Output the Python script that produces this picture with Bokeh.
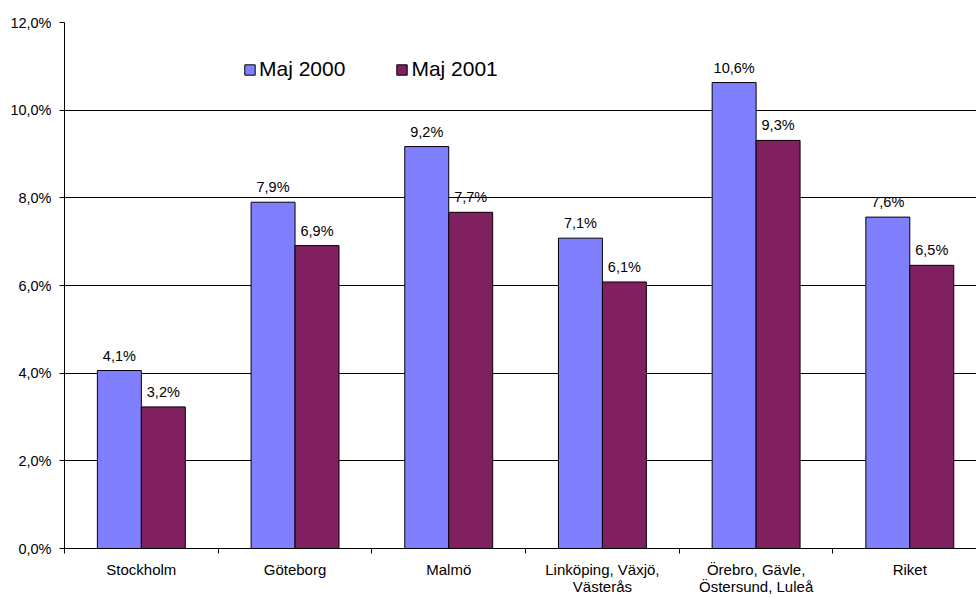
from bokeh.plotting import figure
from bokeh.models import Range1d, FixedTicker, ColumnDataSource, Legend, LegendItem, LabelSet
from bokeh.core.properties import value
from bokeh.embed import file_html
from bokeh.resources import INLINE

categories = ["Stockholm", "Göteborg", "Malmö", "Linköping, Växjö,\nVästerås",
              "Örebro, Gävle,\nÖstersund, Luleå", "Riket"]
maj_2000 = [4.06, 7.90, 9.17, 7.08, 10.63, 7.56]
maj_2001 = [3.23, 6.91, 7.67, 6.08, 9.31, 6.46]
series_names = ["Maj 2000", "Maj 2001"]
y_ticks = [0, 2, 4, 6, 8, 10, 12]
y_tick_labels = ["0,0%", "2,0%", "4,0%", "6,0%", "8,0%", "10,0%", "12,0%"]

FONT = "Liberation Sans"
BLUE = "#8080FF"
PURPLE = "#802060"
BAR_W = 0.286

n = len(categories)
centers = [i + 0.5 for i in range(n)]


def fmt(v):
    return f"{v:.1f}".replace(".", ",") + "%"


src_a = ColumnDataSource(dict(x=[c - BAR_W / 2 for c in centers], top=maj_2000,
                              lab=[fmt(v) for v in maj_2000]))
src_b = ColumnDataSource(dict(x=[c + BAR_W / 2 for c in centers], top=maj_2001,
                              lab=[fmt(v) for v in maj_2001]))

p = figure(width=976, height=597, output_backend="svg", toolbar_location=None,
           x_range=Range1d(0, 5.934), y_range=Range1d(0, 12),
           min_border_left=64, min_border_right=0, min_border_top=22, min_border_bottom=48)
p.outline_line_color = None
p.background_fill_color = "white"
p.border_fill_color = "white"

# grid
p.xgrid.grid_line_color = None
p.ygrid.ticker = FixedTicker(ticks=y_ticks)
p.ygrid.grid_line_color = "#000000"
p.ygrid.grid_line_width = 1

# y axis
p.yaxis.ticker = FixedTicker(ticks=y_ticks)
p.yaxis.major_label_overrides = {t: l for t, l in zip(y_ticks, y_tick_labels)}
p.yaxis.major_tick_out = 5
p.yaxis.major_tick_in = 0
p.yaxis.minor_tick_line_color = None
p.yaxis.major_label_standoff = 8
p.yaxis.axis_line_color = "black"
p.yaxis.major_tick_line_color = "black"
p.yaxis.major_label_text_font = FONT
p.yaxis.major_label_text_font_size = "14.5px"
p.yaxis.major_label_text_color = "black"

# x axis: labels at category centres, ticks at category boundaries
p.xaxis.ticker = FixedTicker(ticks=centers, minor_ticks=list(range(n + 1)))
p.xaxis.major_label_overrides = {c: lab for c, lab in zip(centers, categories)}
p.xaxis.major_tick_out = 0
p.xaxis.major_tick_in = 0
p.xaxis.minor_tick_out = 5
p.xaxis.minor_tick_in = 0
p.xaxis.minor_tick_line_color = "black"
p.xaxis.axis_line_color = "black"
p.xaxis.major_label_standoff = 7
p.xaxis.major_label_text_font = FONT
p.xaxis.major_label_text_font_size = "15px"
p.xaxis.major_label_text_line_height = 1.0
p.xaxis.major_label_text_color = "black"

r1 = p.vbar(x="x", top="top", width=BAR_W, bottom=0, source=src_a,
            fill_color=BLUE, line_color="black", line_width=1)
r2 = p.vbar(x="x", top="top", width=BAR_W, bottom=0, source=src_b,
            fill_color=PURPLE, line_color="black", line_width=1)

for s in (src_a, src_b):
    p.add_layout(LabelSet(x="x", y="top", text="lab", source=s, text_align="center",
                          text_baseline="alphabetic", y_offset=10,
                          text_font=value(FONT), text_font_size=value("14.5px"),
                          text_color="black"))

legend = Legend(items=[LegendItem(label=series_names[0], renderers=[r1]),
                       LegendItem(label=series_names[1], renderers=[r2])],
                orientation="horizontal", location=(179, 467),
                glyph_width=13, glyph_height=13, label_standoff=3, spacing=50,
                padding=0, margin=0, border_line_color=None,
                background_fill_alpha=0,
                label_text_font=FONT, label_text_font_size="21px", label_text_color="black")
p.add_layout(legend)

open("out.html", "w").write(file_html(p, INLINE))
